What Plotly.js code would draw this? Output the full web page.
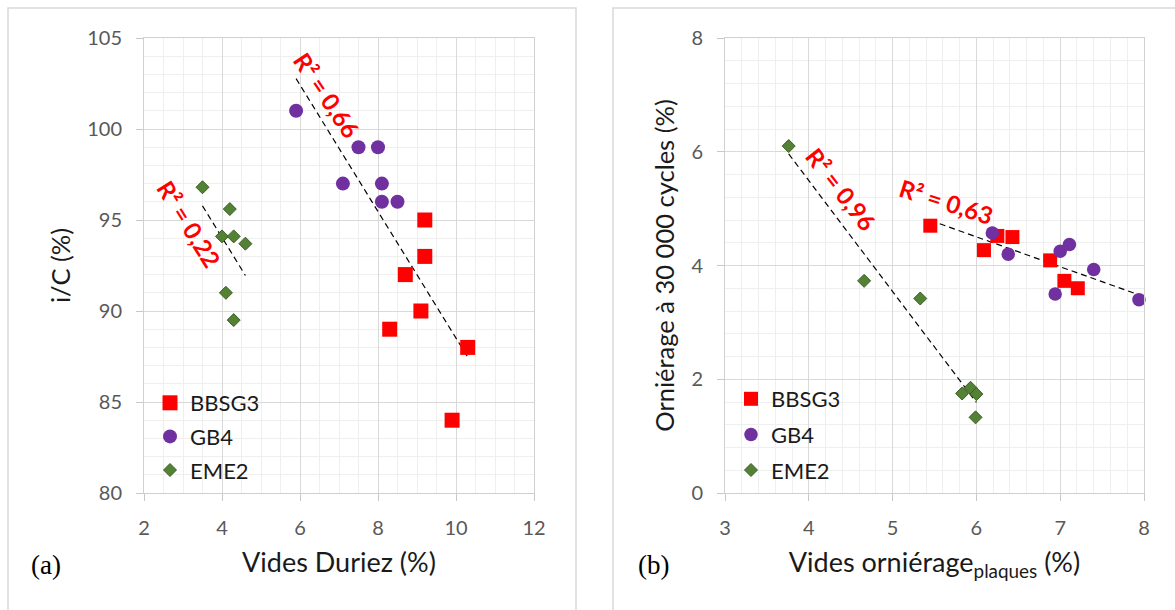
<!DOCTYPE html>
<html>
<head>
<meta charset="utf-8">
<script src="https://cdn.plot.ly/plotly-3.0.1.min.js"></script>
<style>html,body{margin:0;padding:0;background:#fff;}#chart{width:1175px;height:610px;}</style>
</head>
<body>
<div id="chart"></div>
<script>
// ---- Panel (a): Vides Duriez (%) vs i/C (%) ----
const aBBSG3_x = [9.2, 9.2, 8.7, 9.1, 8.3, 10.3, 9.9];
const aBBSG3_y = [95, 93, 92, 90, 89, 88, 84];
const aGB4_x = [5.9, 7.5, 8.0, 7.1, 8.1, 8.1, 8.5];
const aGB4_y = [101, 99, 99, 97, 97, 96, 96];
const aEME2_x = [3.5, 4.2, 4.0, 4.3, 4.6, 4.1, 4.3];
const aEME2_y = [96.8, 95.6, 94.1, 94.1, 93.7, 91.0, 89.5];

// ---- Panel (b): Vides orniérage plaques (%) vs Orniérage à 30 000 cycles (%) ----
const bBBSG3_x = [5.45, 6.25, 6.43, 6.09, 6.88, 7.05, 7.21];
const bBBSG3_y = [4.70, 4.52, 4.50, 4.27, 4.09, 3.73, 3.60];
const bGB4_x = [6.19, 6.38, 7.00, 7.11, 7.40, 6.94, 7.94];
const bGB4_y = [4.57, 4.20, 4.25, 4.37, 3.93, 3.50, 3.40];
const bEME2_x = [3.76, 4.66, 5.33, 5.83, 5.93, 6.00, 5.99];
const bEME2_y = [6.10, 3.73, 3.42, 1.75, 1.85, 1.74, 1.33];

const seriesNames = ["BBSG3", "GB4", "EME2"];
const r2Labels = ["R² = 0,66", "R² = 0,22", "R² = 0,96", "R² = 0,63"];

// linear least-squares trendline over the data range
function trend(xs, ys) {
  const n = xs.length;
  const mx = xs.reduce((a, b) => a + b, 0) / n;
  const my = ys.reduce((a, b) => a + b, 0) / n;
  let sxy = 0, sxx = 0;
  for (let i = 0; i < n; i++) { sxy += (xs[i] - mx) * (ys[i] - my); sxx += (xs[i] - mx) ** 2; }
  const m = sxy / sxx, c = my - m * mx;
  const x0 = Math.min(...xs), x1 = Math.max(...xs);
  return { x: [x0, x1], y: [m * x0 + c, m * x1 + c] };
}

const RED = "#ff0000", PURPLE = "#7030a0", GREEN = "#548235";
const FONT = "Lato, 'Open Sans', sans-serif";

function pts(x, y, name, kind, xa, ya, leg, size) {
  const m = {
    sq: { symbol: "square", color: RED, size: size, line: { width: 0 } },
    ci: { symbol: "circle", color: PURPLE, size: size, line: { width: 0 } },
    di: { symbol: "diamond", color: GREEN, size: size, line: { width: 1, color: "#3b5e25" } }
  }[kind];
  return { x: x, y: y, name: name, type: "scatter", mode: "markers", marker: m,
    xaxis: xa, yaxis: ya, legend: leg, legendgroup: leg + name, cliponaxis: false };
}
function tl(t, xa, ya) {
  return { x: t.x, y: t.y, type: "scatter", mode: "lines", showlegend: false,
    line: { color: "#000", width: 1.2, dash: "6px,4px" }, xaxis: xa, yaxis: ya };
}

const tA1 = trend(aGB4_x.concat(aBBSG3_x), aGB4_y.concat(aBBSG3_y));
const tA2 = trend(aEME2_x, aEME2_y);
const tB1 = trend(bEME2_x, bEME2_y);
const tB2 = trend(bBBSG3_x.concat(bGB4_x), bBBSG3_y.concat(bGB4_y));

const data = [
  tl(tA1, "x", "y"), tl(tA2, "x", "y"),
  tl(tB1, "x2", "y2"), tl(tB2, "x2", "y2"),
  pts(aBBSG3_x, aBBSG3_y, seriesNames[0], "sq", "x", "y", "legend", 15),
  pts(aGB4_x, aGB4_y, seriesNames[1], "ci", "x", "y", "legend", 14),
  pts(aEME2_x, aEME2_y, seriesNames[2], "di", "x", "y", "legend", 10),
  pts(bBBSG3_x, bBBSG3_y, seriesNames[0], "sq", "x2", "y2", "legend2", 14),
  pts(bGB4_x, bGB4_y, seriesNames[1], "ci", "x2", "y2", "legend2", 13.5),
  pts(bEME2_x, bEME2_y, seriesNames[2], "di", "x2", "y2", "legend2", 10)
];

const tickFont = { family: FONT, size: 20, color: "#595959" };
const titleFont = { family: FONT, size: 27, color: "#1a1a1a" };
const yTitleFont = { family: FONT, size: 25.5, color: "#1a1a1a" };
function ax(extra) {
  return Object.assign({
    showgrid: true, gridcolor: "#d9d9d9", gridwidth: 1,
    showline: true, linecolor: "#d0d0d0", linewidth: 1, mirror: true,
    ticks: "outside", ticklen: 7, tickcolor: "#c8c8c8", tickwidth: 1,
    tickfont: tickFont, zeroline: false, fixedrange: true, automargin: false
  }, extra);
}

// paper coords: plot area spans px 144..1144 horizontally, 38..493 vertically
const PX = (px) => (px - 144) / 1000;
const PY = (py) => (493 - py) / 455;

const r2Font = { family: FONT, size: 24, color: RED, weight: "bold" };
const labFont = { family: "'Liberation Serif', 'DejaVu Serif', serif", size: 27, color: "#000" };
const legFont = { family: FONT, size: 22, color: "#1a1a1a" };

const layout = {
  width: 1175, height: 610,
  margin: { l: 144, r: 31, t: 38, b: 117, autoexpand: false },
  paper_bgcolor: "#fff", plot_bgcolor: "#fff",
  font: { family: FONT },
  hovermode: false,
  xaxis: ax({ domain: [0, 0.39], range: [2, 12], dtick: 2, tick0: 2, anchor: "y",
    ticklabelstandoff: 10,
    minor: { dtick: 0.5, showgrid: true, gridcolor: "#efefef", ticks: "" },
    title: { text: "Vides Duriez (%)", font: titleFont, standoff: 15 } }),
  yaxis: ax({ domain: [0, 1], range: [80, 105], dtick: 5, anchor: "x",
    ticklabelstandoff: 10,
    minor: { dtick: 1, showgrid: true, gridcolor: "#efefef", ticks: "" },
    title: { text: "i/C (%)", font: yTitleFont, standoff: 9 } }),
  xaxis2: ax({ domain: [0.581, 1], range: [3, 8], dtick: 1, anchor: "y2",
    ticklabelstandoff: 10,
    minor: { dtick: 0.2, showgrid: true, gridcolor: "#efefef", ticks: "" },
    title: { text: "Vides orniérage<sub>plaques</sub> (%)", font: titleFont, standoff: 15 } }),
  yaxis2: ax({ domain: [0, 1], range: [0, 8], dtick: 2, anchor: "x2",
    ticklabelstandoff: 10,
    minor: { dtick: 0.4, showgrid: true, gridcolor: "#efefef", ticks: "" },
    title: { text: "Orniérage à 30 000 cycles (%)", font: yTitleFont, standoff: 9 } }),
  legend: { x: PX(150), y: PY(382),
    xanchor: "left", yanchor: "top", bgcolor: "rgba(0,0,0,0)",
    font: legFont, traceorder: "grouped", tracegroupgap: 2 },
  legend2: { x: PX(731), y: PY(378),
    xanchor: "left", yanchor: "top", bgcolor: "rgba(0,0,0,0)",
    font: legFont, traceorder: "grouped", tracegroupgap: 4 },
  shapes: [
    { type: "rect", xref: "paper", yref: "paper", x0: PX(8), x1: PX(576), y0: PY(640), y1: PY(8),
      line: { color: "#d9d9d9", width: 1.5 }, layer: "below" },
    { type: "rect", xref: "paper", yref: "paper", x0: PX(613), x1: PX(1185), y0: PY(640), y1: PY(8),
      line: { color: "#d9d9d9", width: 1.5 }, layer: "below" }
  ],
  annotations: [
    { text: r2Labels[0], xref: "x", yref: "y", x: 6.68, y: 101.9, textangle: 56, showarrow: false, font: r2Font },
    { text: r2Labels[1], xref: "x", yref: "y", x: 3.15, y: 94.8, textangle: 58, showarrow: false, font: r2Font },
    { text: r2Labels[2], xref: "x2", yref: "y2", x: 4.39, y: 5.34, textangle: 52, showarrow: false, font: r2Font },
    { text: r2Labels[3], xref: "x2", yref: "y2", x: 5.64, y: 5.12, textangle: 17.5, showarrow: false, font: r2Font },
    { text: "(a)", xref: "paper", yref: "paper", x: PX(46), y: PY(565), xanchor: "center", yanchor: "middle",
      showarrow: false, font: labFont },
    { text: "(b)", xref: "paper", yref: "paper", x: PX(653), y: PY(565), xanchor: "center", yanchor: "middle",
      showarrow: false, font: labFont }
  ]
};

Plotly.newPlot("chart", data, layout, { displayModeBar: false, staticPlot: true });
</script>
</body>
</html>
